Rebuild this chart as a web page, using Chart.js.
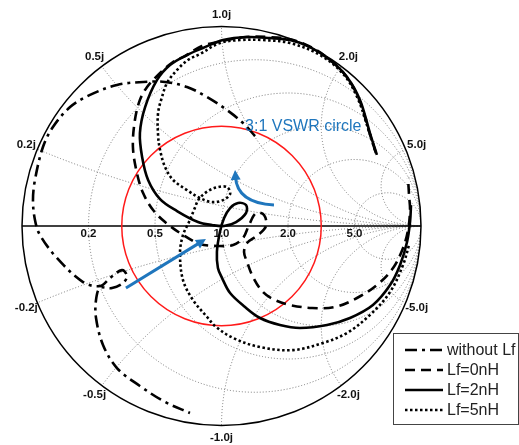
<!DOCTYPE html>
<html lang="en">
<head>
    <meta charset="UTF-8">
    <title>Smith chart - input match</title>
    <style>
        body {
            margin: 0;
            padding: 0;
            background-color: #fff;
        }
        #smithChart {
            display: block;
        }
    </style>
</head>
<body>
    <canvas id="smithChart" width="519" height="445"></canvas>

    <script src="https://cdn.jsdelivr.net/npm/chart.js"></script>
    <script>
        // grid ticks (normalized resistance / reactance)
        const resistanceTicks = [0.2, 0.5, 1.0, 2.0, 5.0];
        const reactanceTicks = [0.2, 0.5, 1.0, 2.0, 5.0];
        const vswrCircle = 3;

        const seriesNames = ['without Lf', 'Lf=0nH', 'Lf=2nH', 'Lf=5nH'];

        const noLfRe = [0.168, 0.108, 0.028, -0.073, -0.173, -0.283, -0.393, -0.524, -0.659, -0.759,
            -0.845, -0.895, -0.935, -0.945, -0.935, -0.910, -0.825, -0.694, -0.609, -0.559,
            -0.499, -0.474, -0.494, -0.549, -0.609, -0.629, -0.629, -0.594, -0.524, -0.409,
            -0.283, -0.158];
        const noLfIm = [0.451, 0.516, 0.581, 0.647, 0.697, 0.722, 0.722, 0.707, 0.657, 0.596,
            0.496, 0.396, 0.231, 0.130, 0.030, -0.045, -0.160, -0.281, -0.301, -0.261,
            -0.221, -0.251, -0.286, -0.311, -0.311, -0.371, -0.461, -0.596, -0.712, -0.802,
            -0.882, -0.937];

        const lf0Re = [0.774, 0.739, 0.689, 0.624, 0.539, 0.439, 0.338, 0.238, 0.123, 0.003,
            -0.098, -0.183, -0.243, -0.318, -0.373, -0.409, -0.434, -0.444, -0.424, -0.393,
            -0.343, -0.283, -0.193, -0.108, -0.018, 0.058, 0.108, 0.138, 0.173, 0.213,
            0.223, 0.183, 0.128, 0.113, 0.128, 0.158, 0.208, 0.268, 0.343, 0.454,
            0.569, 0.679, 0.779, 0.860, 0.910, 0.935, 0.945, 0.940, 0.935];
        const lf0Im = [0.366, 0.476, 0.637, 0.752, 0.837, 0.902, 0.937, 0.947, 0.947, 0.927,
            0.902, 0.852, 0.822, 0.757, 0.697, 0.632, 0.531, 0.396, 0.266, 0.165,
            0.080, 0.020, -0.045, -0.090, -0.100, -0.095, -0.060, 0.005, 0.065, 0.055,
            0.000, -0.045, -0.085, -0.130, -0.180, -0.256, -0.331, -0.371, -0.396, -0.411,
            -0.406, -0.361, -0.296, -0.211, -0.110, -0.020, 0.080, 0.155, 0.241];

        const lf2Re = [0.779, 0.744, 0.694, 0.629, 0.544, 0.444, 0.343, 0.243, 0.128, 0.008,
            -0.093, -0.173, -0.258, -0.323, -0.383, -0.409, -0.398, -0.368, -0.308, -0.223,
            -0.118, -0.048, 0.013, 0.073, 0.123, 0.123, 0.083, 0.043, 0.013, -0.008,
            -0.023, -0.018, 0.003, 0.043, 0.118, 0.193, 0.293, 0.393, 0.529, 0.644,
            0.759, 0.845, 0.895, 0.930, 0.945, 0.950];
        const lf2Im = [0.356, 0.466, 0.632, 0.747, 0.832, 0.897, 0.932, 0.942, 0.947, 0.932,
            0.892, 0.857, 0.807, 0.732, 0.596, 0.466, 0.346, 0.231, 0.135, 0.075,
            0.020, 0.005, 0.000, 0.020, 0.065, 0.105, 0.115, 0.090, 0.040, -0.030,
            -0.130, -0.211, -0.261, -0.336, -0.406, -0.461, -0.496, -0.511, -0.496, -0.461,
            -0.396, -0.296, -0.195, -0.080, 0.020, 0.105];

        const lf5Re = [0.769, 0.734, 0.684, 0.614, 0.494, 0.343, 0.208, 0.093, -0.008, -0.108,
            -0.168, -0.223, -0.273, -0.298, -0.318, -0.318, -0.308, -0.283, -0.243, -0.173,
            -0.108, -0.048, 0.008, 0.043, 0.028, -0.018, -0.068, -0.113, -0.138, -0.163,
            -0.193, -0.208, -0.193, -0.143, -0.068, -0.033, 0.058, 0.193, 0.358, 0.509,
            0.629, 0.744, 0.845, 0.910, 0.940];
        const lf5Im = [0.381, 0.491, 0.637, 0.757, 0.857, 0.917, 0.932, 0.932, 0.917, 0.862,
            0.832, 0.782, 0.717, 0.647, 0.566, 0.456, 0.381, 0.296, 0.231, 0.180,
            0.140, 0.120, 0.130, 0.160, 0.195, 0.195, 0.175, 0.135, 0.080, 0.020,
            -0.045, -0.135, -0.271, -0.371, -0.461, -0.501, -0.561, -0.607, -0.622, -0.586,
            -0.536, -0.446, -0.331, -0.195, -0.095];

        // annotation anchors (gamma plane)
        const arrowStraight = [[-0.479, -0.311], [-0.078, -0.065]];
        const arrowCurved = [[0.263, 0.105], [0.078, 0.115], [0.068, 0.281]];
        const vswrLabelPos = [0.118, 0.496];

        const BLUE = '#1f76bd';
        const labelFont = 'bold 11.5px "Liberation Sans", Arial, sans-serif';

        function toPoints(re, im) {
            return re.map((u, i) => ({ x: u, y: im[i] }));
        }

        const lineStyles = [
            { dash: [12, 5, 3, 5], width: 2.6 },
            { dash: [10, 6], width: 2.6 },
            { dash: [], width: 2.6 },
            { dash: [2.5, 2.5], width: 2.6 }
        ];
        const seriesData = [
            toPoints(noLfRe, noLfIm),
            toPoints(lf0Re, lf0Im),
            toPoints(lf2Re, lf2Im),
            toPoints(lf5Re, lf5Im)
        ];

        function drawArrowHead(ctx, fromX, fromY, toX, toY) {
            const ang = Math.atan2(toY - fromY, toX - fromX);
            const len = 10, half = 5;
            ctx.beginPath();
            ctx.moveTo(toX, toY);
            ctx.lineTo(toX - len * Math.cos(ang) + half * Math.sin(ang), toY - len * Math.sin(ang) - half * Math.cos(ang));
            ctx.lineTo(toX - len * Math.cos(ang) - half * Math.sin(ang), toY - len * Math.sin(ang) + half * Math.cos(ang));
            ctx.closePath();
            ctx.fill();
        }

        // Smith grid, outer ring, VSWR circle and tick labels
        const smithGrid = {
            id: 'smithGrid',
            beforeDatasetsDraw(chart) {
                const ctx = chart.ctx;
                const xs = chart.scales.x, ys = chart.scales.y;
                const px = u => xs.getPixelForValue(u);
                const py = v => ys.getPixelForValue(v);
                const cx = px(0), cy = py(0);
                const R = px(1) - px(0);

                ctx.save();
                ctx.beginPath();
                ctx.arc(cx, cy, R, 0, Math.PI * 2);
                ctx.clip();
                ctx.setLineDash([1, 2]);
                ctx.strokeStyle = '#777';
                ctx.lineWidth = 1;
                resistanceTicks.forEach(r => {
                    ctx.beginPath();
                    ctx.arc(px(r / (1 + r)), cy, R / (1 + r), 0, Math.PI * 2);
                    ctx.stroke();
                });
                reactanceTicks.forEach(xv => {
                    [1, -1].forEach(s => {
                        ctx.beginPath();
                        ctx.arc(px(1), py(s / xv), R / xv, 0, Math.PI * 2);
                        ctx.stroke();
                    });
                });
                ctx.restore();

                ctx.save();
                ctx.strokeStyle = '#000';
                ctx.lineWidth = 1.5;
                ctx.beginPath();
                ctx.arc(cx, cy, R, 0, Math.PI * 2);
                ctx.stroke();
                ctx.beginPath();
                ctx.moveTo(px(-1), cy);
                ctx.lineTo(px(1), cy);
                ctx.stroke();

                // 3:1 VSWR circle
                const g = (vswrCircle - 1) / (vswrCircle + 1);
                ctx.strokeStyle = '#ff1a1a';
                ctx.lineWidth = 1.5;
                ctx.beginPath();
                ctx.arc(cx, cy, R * g, 0, Math.PI * 2);
                ctx.stroke();

                // labels
                ctx.fillStyle = '#111';
                ctx.font = labelFont;
                ctx.textAlign = 'center';
                ctx.textBaseline = 'middle';
                resistanceTicks.forEach(r => {
                    const u = (r - 1) / (r + 1);
                    ctx.fillText(r.toFixed(1), px(u), cy + 8);
                });
                reactanceTicks.forEach(xv => {
                    const ang = Math.PI - 2 * Math.atan(xv);
                    const k = 1.06;
                    ctx.fillText(xv.toFixed(1) + 'j', px(k * Math.cos(ang)), py(k * Math.sin(ang)));
                    ctx.fillText('-' + xv.toFixed(1) + 'j', px(k * Math.cos(ang)), py(-k * Math.sin(ang)));
                });
                ctx.restore();
            },
            afterDatasetsDraw(chart) {
                const ctx = chart.ctx;
                const xs = chart.scales.x, ys = chart.scales.y;
                const px = u => xs.getPixelForValue(u);
                const py = v => ys.getPixelForValue(v);

                ctx.save();
                ctx.strokeStyle = BLUE;
                ctx.fillStyle = BLUE;
                ctx.lineWidth = 3;
                ctx.setLineDash([]);

                // straight arrow
                const a0 = arrowStraight[0], a1 = arrowStraight[1];
                const sx = px(a0[0]), sy = py(a0[1]), ex = px(a1[0]), ey = py(a1[1]);
                const ang = Math.atan2(ey - sy, ex - sx);
                ctx.beginPath();
                ctx.moveTo(sx, sy);
                ctx.lineTo(ex - 8 * Math.cos(ang), ey - 8 * Math.sin(ang));
                ctx.stroke();
                drawArrowHead(ctx, sx, sy, ex, ey);

                // curved arrow
                const c0 = arrowCurved[0], c1 = arrowCurved[1], c2 = arrowCurved[2];
                const qx = px(c1[0]), qy = py(c1[1]);
                const tx = px(c2[0]), ty = py(c2[1]);
                const ang2 = Math.atan2(ty - qy, tx - qx);
                ctx.beginPath();
                ctx.moveTo(px(c0[0]), py(c0[1]));
                ctx.quadraticCurveTo(qx, qy, tx - 7 * Math.cos(ang2), ty - 7 * Math.sin(ang2));
                ctx.stroke();
                drawArrowHead(ctx, qx, qy, tx, ty);

                ctx.font = '16px "Liberation Sans", Arial, sans-serif';
                ctx.textAlign = 'left';
                ctx.textBaseline = 'middle';
                ctx.fillText('3:1 VSWR circle', px(vswrLabelPos[0]), py(vswrLabelPos[1]));
                ctx.restore();
            },
            afterDraw(chart) {
                // legend box, lower right
                const ctx = chart.ctx;
                const area = chart.chartArea;
                const bx = area.right - 126, by = area.bottom - 112;
                const bw = 125, bh = 91;
                ctx.save();
                ctx.fillStyle = '#fff';
                ctx.fillRect(bx, by, bw, bh);
                ctx.strokeStyle = '#444';
                ctx.lineWidth = 1;
                ctx.strokeRect(bx + 0.5, by + 0.5, bw, bh);
                ctx.font = '16px "Liberation Sans", Arial, sans-serif';
                ctx.textBaseline = 'middle';
                ctx.textAlign = 'left';
                seriesNames.forEach((name, i) => {
                    const y = by + 17 + i * 20;
                    ctx.strokeStyle = '#000';
                    ctx.lineWidth = lineStyles[i].width;
                    ctx.setLineDash(lineStyles[i].dash);
                    ctx.beginPath();
                    ctx.moveTo(bx + 12, y);
                    ctx.lineTo(bx + 50, y);
                    ctx.stroke();
                    ctx.setLineDash([]);
                    ctx.fillStyle = '#222';
                    ctx.fillText(name, bx + 54, y + 1);
                });
                ctx.restore();
            }
        };

        const ctx = document.getElementById('smithChart').getContext('2d');
        const chart = new Chart(ctx, {
            type: 'scatter',
            data: {
                datasets: seriesNames.map((name, i) => ({
                    label: name,
                    data: seriesData[i],
                    showLine: true,
                    borderColor: '#000',
                    backgroundColor: '#000',
                    borderWidth: lineStyles[i].width,
                    borderDash: lineStyles[i].dash,
                    pointRadius: 0,
                    tension: 0.35,
                    fill: false
                }))
            },
            options: {
                responsive: false,
                animation: false,
                layout: { padding: 0 },
                plugins: {
                    legend: { display: false },
                    tooltip: { enabled: false }
                },
                scales: {
                    x: { type: 'linear', display: false, min: -1.1103, max: 1.4912 },
                    y: { type: 'linear', display: false, min: -1.0977, max: 1.1328 }
                }
            },
            plugins: [smithGrid]
        });
    </script>
</body>
</html>
